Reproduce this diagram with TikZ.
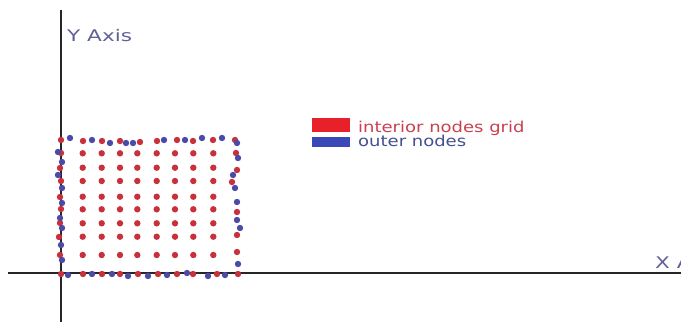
\documentclass[tikz,border=0pt]{standalone}
\usepackage{fontspec}
\setmainfont{DejaVu Sans}
\newfontfamily\legendfont[FakeStretch=1.2]{DejaVu Sans}
\newfontfamily\axisfont[FakeStretch=1.35]{DejaVu Sans}
\definecolor{dotred}{HTML}{C8303C}
\definecolor{dotblue}{HTML}{4A4AA8}
\definecolor{keyred}{HTML}{E8202A}
\definecolor{keyblue}{HTML}{3A48B8}
\definecolor{textred}{HTML}{CC4050}
\definecolor{textblue}{HTML}{44508F}
\definecolor{axistext}{HTML}{606098}

\begin{document}
\begin{tikzpicture}[x=1pt,y=-1pt,
    axis line/.style={draw=black!85,line width=1.3pt},
    axis label/.style={font=\axisfont\fontsize{16}{19}\selectfont,text=axistext,anchor=base west,inner sep=0pt},
    key box/.style={draw=none,minimum width=38pt,inner sep=0pt,anchor=north west},
    key label/.style={font=\legendfont\fontsize{15}{18}\selectfont,anchor=base west,inner sep=0pt},
    red dot/.style={fill=dotred},
    blue dot/.style={fill=dotblue}]
    \clip (0,0) rectangle (681,322);
    \fill[white] (0,0) rectangle (681,322);

    % axes
    \coordinate (ytop) at (61,10);
    \coordinate (ybottom) at (61,322);
    \coordinate (xleft) at (8,273);
    \coordinate (xright) at (681,273);
    \draw[axis line] (ytop) -- (ybottom);
    \draw[axis line] (xleft) -- (xright);
    \node[axis label] (ylabel) at (67,41) {Y Axis};
    \node[axis label] (xlabel) at (655,268.5) {X Axis};

    % legend
    \node[key box,fill=keyred,minimum height=14pt] (redkey) at (312,118) {};
    \node[key box,fill=keyblue,minimum height=10pt] (bluekey) at (312,137) {};
    \node[key label,text=textred] (redlabel) at (358,132) {interior nodes grid};
    \node[key label,text=textblue] (bluelabel) at (358,146) {outer nodes};

    % interior nodes grid
    \foreach \x in {82.7,101.7,120,137.3,156.7,175,193.3,213.3}
        \foreach \y in {153.3,167.7,181,196.7,209.3,223.3,236.7,255}
            \fill[red dot] (\x,\y) circle (3.2pt);

    % grid points on the boundary
    \foreach \p in {(61,140),(83,141),(102,141),(120,141),(140,142),(157,141),(177,140),(193,141),(213,140),(235,140),
                    (236,153),(237,170),(232,182),(237,212),(237,235),(237,252),(238,274),
                    (61,274),(83,274),(102,274),(120,274),(138,274),(158,274),(177,274),(193,274),(217,274),
                    (61,153),(60,168),(61,181),(60,197),(61,209),(60,223),(59,237),(60,255)}
        \fill[red dot] \p circle (3.2pt);

    % outer nodes
    \foreach \p in {(70,138),(92,140),(110,143),(126,143),(133,143),(164,140),(185,140),(202,138),(222,138),(237,143),
                    (238,158),(233,175),(235,188),(237,202),(237,220),(240,228),(238,264),
                    (68,275),(92,274),(112,274),(128,276),(148,276),(167,275),(187,273),(208,276),(225,275),
                    (58,152),(62,162),(58,175),(62,188),(62,203),(60,218),(62,228),(61,245),(62,260)}
        \fill[blue dot] \p circle (3.2pt);
\end{tikzpicture}
\end{document}
